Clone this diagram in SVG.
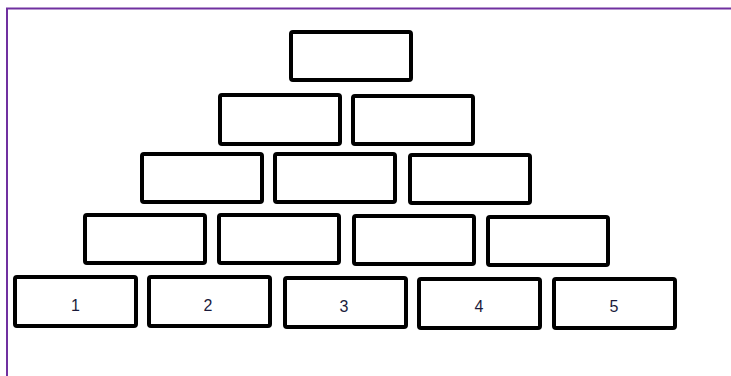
<svg xmlns="http://www.w3.org/2000/svg" width="731" height="376" viewBox="0 0 731 376">
<style>
.b{fill:#fff;stroke:#000;stroke-width:4;rx:2}
.t{font-family:"Liberation Sans",Arial,sans-serif;font-size:16px;fill:#1a1a3a;text-anchor:middle}
</style>
<rect width="731" height="376" fill="#fff"/>
<path d="M731 8.5H7V376" fill="none" stroke="#7030A0" stroke-width="2"/>
<g id="r1c1"><rect class="b" x="291" y="32" width="120" height="48"/></g>
<g id="r2c1"><rect class="b" x="220" y="95" width="120" height="49"/></g>
<g id="r2c2"><rect class="b" x="353" y="96" width="120" height="48"/></g>
<g id="r3c1"><rect class="b" x="142" y="154" width="120" height="48"/></g>
<g id="r3c2"><rect class="b" x="275" y="154" width="120" height="48"/></g>
<g id="r3c3"><rect class="b" x="410" y="155" width="120" height="48"/></g>
<g id="r4c1"><rect class="b" x="85" y="215" width="120" height="48"/></g>
<g id="r4c2"><rect class="b" x="219" y="215" width="120" height="48"/></g>
<g id="r4c3"><rect class="b" x="354" y="216" width="120" height="48"/></g>
<g id="r4c4"><rect class="b" x="488" y="217" width="120" height="48"/></g>
<g id="n1"><rect class="b" x="15" y="277" width="121" height="49"/><text class="t" x="75.5" y="311">1</text></g>
<g id="n2"><rect class="b" x="149" y="277" width="121" height="49"/><text class="t" x="208" y="311">2</text></g>
<g id="n3"><rect class="b" x="285" y="278" width="121" height="49"/><text class="t" x="344" y="312">3</text></g>
<g id="n4"><rect class="b" x="419" y="279" width="121" height="49"/><text class="t" x="479" y="312">4</text></g>
<g id="n5"><rect class="b" x="554" y="279" width="121" height="49"/><text class="t" x="614" y="312">5</text></g>
<g id="connectors"/>
</svg>
